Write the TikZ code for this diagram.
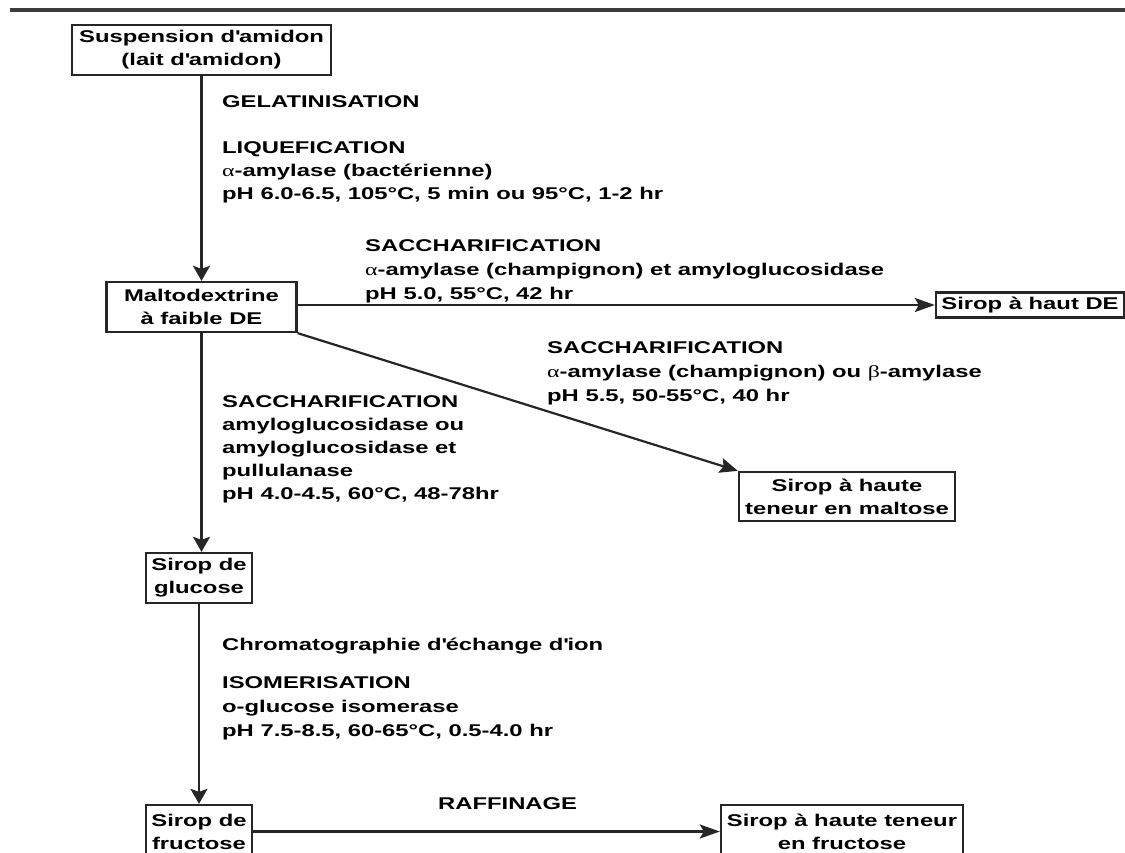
\documentclass[tikz,border=0pt]{standalone}
\usepackage{fontspec}
\setmainfont{Liberation Sans}[FakeStretch=1.4]
\newfontfamily\grk{Liberation Serif}[FakeStretch=1.4]
\usetikzlibrary{arrows.meta}
\newcommand\ap{\textquotesingle}
\newcommand\ga{{\grk\mdseries α}}
\newcommand\gb{{\grk\mdseries β}}
\definecolor{ln}{HTML}{262626}
\tikzset{
  box/.style={draw=ln, line width=2.3pt, inner sep=0pt, align=center,
    font=\fontsize{17}{23}\selectfont\bfseries},
  txt/.style={inner sep=0pt, align=left, anchor=north west,
    font=\fontsize{17}{23}\selectfont\bfseries},
  txtw/.style={inner sep=0pt, align=left, anchor=north west,
    font=\fontsize{17}{24}\selectfont\bfseries},
  conn/.style={draw=ln, line width=2.2pt},
  varr/.style={conn, -{Stealth[length=15pt,width=17pt,inset=3pt]}},
  harr/.style={conn, -{Stealth[length=20pt,width=14pt,inset=4pt]}},
  darr/.style={conn, -{Stealth[length=18pt,width=15pt,inset=3pt]}},
}
\begin{document}
\begin{tikzpicture}[x=1pt,y=-1pt]
\useasboundingbox (0,0) rectangle (1125,852);
\begin{scope}
\clip (0,0) rectangle (1125,852);
% top rule
\draw[draw=ln!90, line width=4.5pt] (10,10) -- (1125,10);

% boxes
\node[box, minimum width=259pt, minimum height=50pt] (b1) at (201.5,50) {Suspension d\ap amidon\\(lait d\ap amidon)};
\node[box, minimum width=190pt, minimum height=50pt] (b2) at (201.5,307) {Maltodextrine\\à faible DE};
\node[box, minimum width=188pt, minimum height=25pt] (hde) at (1030,305) {Sirop à haut DE};
\node[box, minimum width=216pt, minimum height=49pt] (mal) at (847,496.5) {Sirop à haute\\teneur en maltose};
\node[box, minimum width=106pt, minimum height=50pt] (glu) at (199,578) {Sirop de\\glucose};
\node[box, minimum width=106pt, minimum height=53pt] (fru) at (199,831.5) {Sirop de\\fructose};
\node[box, minimum width=242pt, minimum height=53pt] (hf) at (842,831.5) {Sirop à haute teneur\\en fructose};

% connectors
\draw[varr] (b1.south -| b2.north) -- (b2.north);
\draw[varr] (b2.south) -- (b2.south |- glu.north);
\draw[varr] (glu.south) -- (fru.north);
\draw[harr] (b2.east |- hde.west) -- (hde.west);
\draw[darr] (b2.south east) -- (mal.north west);
\draw[harr] (fru.east) -- (hf.west);

% labels
\node[txt] (tgel) at (222,90.9) {\strut GELATINISATION};
\node[txt] (tliq) at (222,136.9) {\strut LIQUEFICATION\\\ga-amylase (bactérienne)\\pH 6.0-6.5, 105°C, 5 min ou 95°C, 1-2 hr};
\node[txtw] (ts1) at (365,234.2) {\strut SACCHARIFICATION\\\ga-amylase (champignon) et amyloglucosidase\\pH 5.0, 55°C, 42 hr};
\node[txtw] (ts2) at (547,336.2) {\strut SACCHARIFICATION\\\ga-amylase (champignon) ou \gb-amylase\\pH 5.5, 50-55°C, 40 hr};
\node[txt] (ts3) at (222,390.9) {\strut SACCHARIFICATION\\amyloglucosidase ou\\amyloglucosidase et\\pullulanase\\pH 4.0-4.5, 60°C, 48-78hr};
\node[txt] (tchr) at (222,633.9) {\strut Chromatographie d\ap échange d\ap ion};
\node[txtw] (tiso) at (222,671.2) {\strut ISOMERISATION\\o-glucose isomerase\\pH 7.5-8.5, 60-65°C, 0.5-4.0 hr};
\node[txt] (traf) at (438,792.9) {\strut RAFFINAGE};
\end{scope}
\end{tikzpicture}
\end{document}
